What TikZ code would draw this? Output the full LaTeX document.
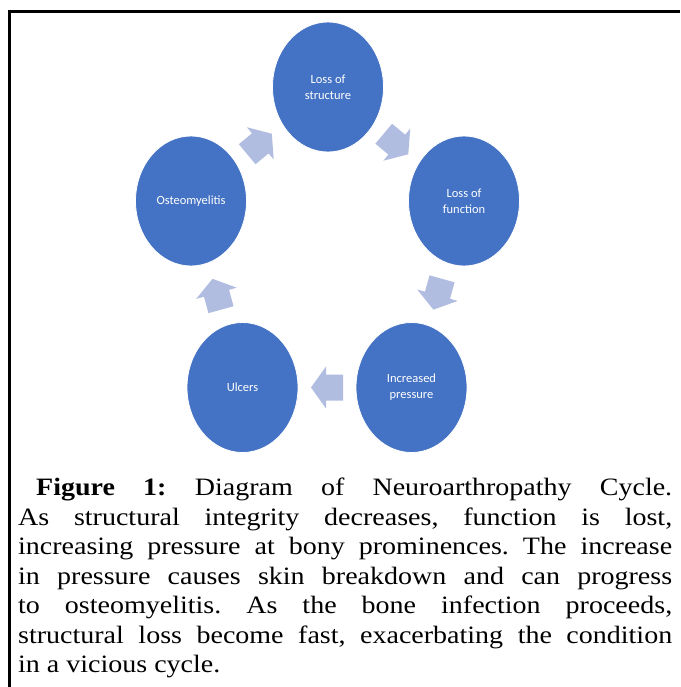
\documentclass[tikz,border=0pt]{standalone}
\usepackage{fontspec}
\setmainfont{Liberation Serif}[FakeStretch=1.12]
\newfontfamily\calib{Carlito}
\usetikzlibrary{shapes.geometric,calc}
\definecolor{ellblue}{HTML}{4472C4}
\definecolor{arrblue}{HTML}{B0BDE0}
\tikzset{
  ell/.style={ellipse, fill=ellblue, draw=white, line width=0.8pt, minimum width=111pt, minimum height=130pt, inner sep=0pt, align=center, text=white, font=\calib\fontsize{12.5}{16}\selectfont},
  cyclearrow/.style={fill=arrblue, draw=none},
  frameline/.style={line width=2.6pt, black}
}
\begin{document}
\begin{tikzpicture}[x=1pt,y=-1pt]
\useasboundingbox (0,0) rectangle (680,687);
\fill[white] (0,0) rectangle (680,687);
% frame
\coordinate (fb) at (9.5,687);
\coordinate (ftl) at (9.5,11.5);
\coordinate (fr) at (680,11.5);
\draw[frameline] (fb) -- (ftl) -- (fr);
% nodes
\node[ell] (s) at (328,87) {Loss of\\structure};
\node[ell] (f) at (464,201) {Loss of\\function};
\node[ell] (p) at (411.5,387.5) {Increased\\pressure};
\node[ell] (u) at (242.5,387.5) {Ulcers};
\node[ell] (o) at (191,201) {Osteomyelitis};
% arrows
\foreach \a/\b/\ang in {s/f/-40, f/p/-105.7, p/u/180, u/o/105.4, o/s/39.8}{
  \fill[cyclearrow, shift={($(\a)!0.5!(\b)$)}, rotate=\ang]
    (-16,-13) -- (1,-13) -- (1,-21) -- (16,0) -- (1,21) -- (1,13) -- (-16,13) -- cycle;
}
% caption
\node[anchor=north west, inner sep=0pt, text width=654pt, align=justify,
      font=\fontsize{25}{29.5}\selectfont\frenchspacing] (cap) at (18,478)
  {\hspace*{18pt}\textbf{Figure 1:} Diagram of Neuroarthropathy Cycle.\linebreak
   As structural integrity decreases, function is lost,\linebreak
   increasing pressure at bony prominences. The increase\linebreak
   in pressure causes skin breakdown and can progress\linebreak
   to osteomyelitis. As the bone infection proceeds,\linebreak
   structural loss become fast, exacerbating the condition\linebreak
   in a vicious cycle.};
\end{tikzpicture}
\end{document}
